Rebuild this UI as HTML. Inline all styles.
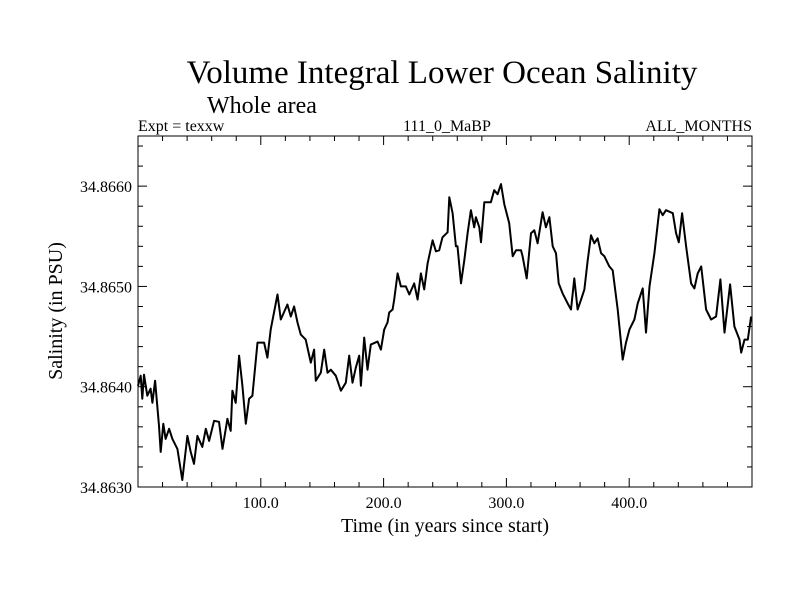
<!DOCTYPE html>
<html><head><meta charset="utf-8"><style>
body{margin:0;background:#fff;}
svg{display:block;font-family:"Liberation Serif",serif;}
</style></head><body>
<svg id="chart" width="800" height="600">
<text x="442" y="83" font-size="33" text-anchor="middle">Volume Integral Lower Ocean Salinity</text>
<text x="207" y="113" font-size="24">Whole area</text>
<text x="138" y="131" font-size="16">Expt = texxw</text>
<text x="447" y="131" font-size="16" text-anchor="middle">111_0_MaBP</text>
<text x="752" y="131" font-size="16" text-anchor="end">ALL_MONTHS</text>
<text x="445" y="532" font-size="20" text-anchor="middle">Time (in years since start)</text>
<text transform="translate(62,311) rotate(-90)" font-size="20" text-anchor="middle">Salinity (in PSU)</text>
<g id="axes"></g>
<g id="series"></g>
</svg>
<script>
const years=[0,2.2,3.5,4.9,7.6,10.3,11.7,13.9,17.1,18.5,20.6,22.5,25.3,28,32.1,36.1,40.2,42.9,45.6,48.4,52.4,55.2,57.9,62,66,68.8,72.8,75.5,76.9,79.6,82.3,85,87.8,90.5,93.2,97.3,100,102.7,105.4,108.1,113.6,116.3,121.7,124.4,127.1,129.9,132.6,136.6,140.7,143.4,144.8,148.9,151.6,154.3,157,161.1,165.2,169.2,172,174.7,177.4,180.1,181.5,184.2,186.9,189.6,195.1,197.8,200.5,203.2,204.6,207.3,208.6,211.4,214.1,218.1,220.9,224.9,227.7,230.4,233.1,235.8,239.9,242.6,245.3,248,252.1,253.5,256.2,258.9,260.2,263,265.7,268.4,271.1,273.8,275.2,277.9,279.3,282,287.4,290.1,292.8,295.6,298.3,302.3,305.1,307.8,311.9,313.2,316.5,320,322.7,325.4,329.5,332.2,335,337.7,340.4,342.6,345.8,349.9,352.6,355.3,358,360.8,363.5,366.2,368.9,371.6,374.3,377.1,379.8,383.8,386.6,390.6,394.7,397.4,400.2,404.2,406.9,411,413.7,416.5,420.5,424.6,427.3,430,435.5,438.2,440.4,443.1,446.3,450.4,453.1,455.8,458.6,462.6,466.7,470.8,474.3,477.6,482.2,485.7,489.8,491.2,493.9,496.6,499.3];
const salinity=[34.86401,34.86411,34.86388,34.86412,34.86391,34.86398,34.86384,34.86406,34.86361,34.86335,34.86363,34.86348,34.86358,34.86348,34.86338,34.86307,34.86351,34.86335,34.86323,34.86351,34.8634,34.86358,34.86346,34.86366,34.86365,34.86338,34.86368,34.86356,34.86396,34.86384,34.86431,34.86401,34.86363,34.86388,34.86391,34.86444,34.86444,34.86444,34.86429,34.86457,34.86492,34.86467,34.86482,34.8647,34.8648,34.86464,34.86452,34.86447,34.86424,34.86437,34.86406,34.86414,34.86437,34.86414,34.86417,34.86411,34.86396,34.86404,34.86431,34.86404,34.86419,34.86431,34.86401,34.86449,34.86417,34.86442,34.86445,34.86437,34.86457,34.86464,34.86474,34.86477,34.86487,34.86513,34.865,34.865,34.86492,34.86503,34.86487,34.86513,34.86497,34.86523,34.86546,34.86535,34.86536,34.86549,34.86554,34.86589,34.86573,34.8654,34.8654,34.86503,34.86526,34.86553,34.86576,34.86559,34.86569,34.86559,34.86544,34.86584,34.86584,34.86596,34.86592,34.86602,34.86582,34.86563,34.8653,34.86536,34.86536,34.8653,34.86508,34.86553,34.86556,34.86543,34.86574,34.86559,34.86569,34.8654,34.86533,34.86503,34.86493,34.86483,34.86477,34.86508,34.86477,34.86487,34.86497,34.86526,34.86551,34.86543,34.86548,34.86533,34.8653,34.8652,34.86516,34.86477,34.86427,34.86444,34.86457,34.86467,34.86483,34.86498,34.86454,34.865,34.86533,34.86577,34.86571,34.86576,34.86573,34.86553,34.86544,34.86573,34.8654,34.86503,34.86498,34.86513,34.8652,34.86477,34.86467,34.8647,34.86507,34.86454,34.86502,34.8646,34.86447,34.86434,34.86447,34.86447,34.8647];
const xTicks=[100,200,300,400];
const xTickLabels=["100.0","200.0","300.0","400.0"];
const yTicks=[34.863,34.864,34.865,34.866];
const yTickLabels=["34.8630","34.8640","34.8650","34.8660"];
const xDomain=[0,500], yDomain=[34.863,34.8665];
const L=138,R=752,T=136,B=487;
const sx=v=>L+(v-xDomain[0])/(xDomain[1]-xDomain[0])*(R-L);
const sy=v=>B-(v-yDomain[0])/(yDomain[1]-yDomain[0])*(B-T);
const NS="http://www.w3.org/2000/svg";
const axes=document.getElementById('axes');
function mk(tag,attrs,parent){const e=document.createElementNS(NS,tag);for(const k in attrs)e.setAttribute(k,attrs[k]);parent.appendChild(e);return e;}
const frame=mk('rect',{x:L,y:T,width:R-L,height:B-T,fill:'none',stroke:'#000','stroke-width':1},axes);


// x ticks (minor every 20, major every 100)
for(let v=20;v<500;v+=20){
  const major=v%100===0, len=major?9:5, x=sx(v);
  const t1=mk('line',{x1:x,x2:x,y1:B,y2:B-len,stroke:'#000'},axes);
  
  
  const t2=mk('line',{x1:x,x2:x,y1:T,y2:T+len,stroke:'#000'},axes);
  
  
}
xTicks.forEach((v,i)=>{
  const t=mk('text',{x:sx(v),y:B+21,'font-size':16,'text-anchor':'middle'},axes);
  t.textContent=xTickLabels[i];
  
  
});
for(let k=1;k<18;k++){
  const v=34.863+k*0.0002, major=k%5===0, len=major?9:5, y=sy(v);
  const t1=mk('line',{x1:L,x2:L+len,y1:y,y2:y,stroke:'#000'},axes);
  
  
  const t2=mk('line',{x1:R,x2:R-len,y1:y,y2:y,stroke:'#000'},axes);
  
  
}
yTicks.forEach((v,i)=>{
  const t=mk('text',{x:L-6,y:sy(v)+6,'font-size':16,'text-anchor':'end'},axes);
  t.textContent=yTickLabels[i];
  
  
});
const d=years.map((yr,i)=>(i?'L':'M')+sx(yr).toFixed(1)+','+sy(salinity[i]).toFixed(1)).join('');
const line=mk('path',{d:d,fill:'none',stroke:'#000','stroke-width':2,'stroke-linejoin':'round'},document.getElementById('series'));


</script>
</body></html>
